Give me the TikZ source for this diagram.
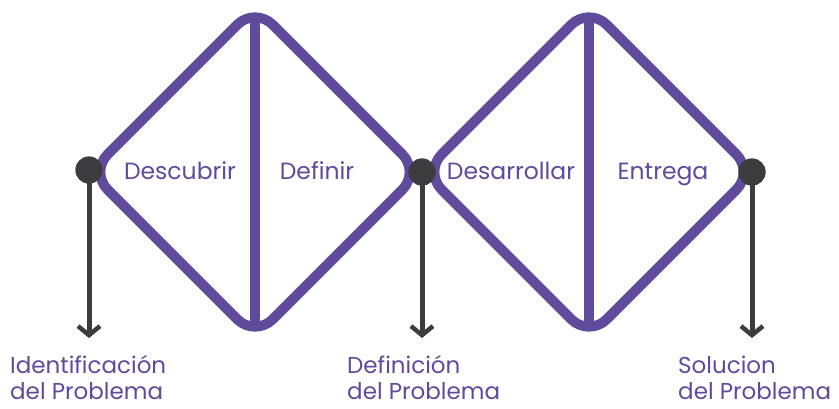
\documentclass[tikz,border=0pt]{standalone}
\usepackage{fontspec}
\setmainfont{Poppins}
\usetikzlibrary{arrows.meta}
\definecolor{dpurple}{HTML}{604A9C}
\definecolor{ddark}{HTML}{3C3C3E}
\begin{document}
\begin{tikzpicture}[x=1pt,y=-1pt,
  dia/.style={draw=dpurple,line width=10pt,rounded corners=25pt,line join=round},
  vline/.style={draw=dpurple,line width=10pt},
  dot/.style={circle,fill=ddark,minimum size=27pt,inner sep=0pt},
  arr/.style={draw=ddark,line width=5pt,-{Straight Barb[length=9pt,width=22pt,line width=4.5pt]}},
  lab/.style={text=dpurple,font=\fontsize{23.5}{28}\selectfont,inner sep=0pt,anchor=base},
  blab/.style={text=dpurple,font=\fontsize{23}{26.5}\selectfont,inner sep=0pt,anchor=base west,align=left,text depth=0pt}]
\useasboundingbox (0,0) rectangle (839,408);
% diamonds
\draw[dia] (172.5,89.5) -- (255,7) -- (420,172) -- (255,337) -- (90,172) -- cycle;
\draw[dia] (506.5,89.5) -- (589,7) -- (754,172) -- (589,337) -- (424,172) -- cycle;
\draw[vline] (255,15) -- (255,329);
\draw[vline] (589,15) -- (589,329);
% labels
\node[lab] (d1) at (180,179) {Descubrir};
\node[lab] (d2) at (317,179) {Definir};
\node[lab] (d3) at (511,179) {Desarrollar};
\node[lab] (d4) at (663,179) {Entrega};
% dots
\node[dot] (p1) at (89,170) {};
\node[dot] (p2) at (422,172) {};
\node[dot] (p3) at (752,172) {};
\coordinate (e1) at (89,338);
\coordinate (e2) at (422,338);
\coordinate (e3) at (752,338);
\draw[arr] (p1.center) -- (e1);
\draw[arr] (p2.center) -- (e2);
\draw[arr] (p3.center) -- (e3);
\node[dot] at (p1) {};
\node[dot] at (p2) {};
\node[dot] at (p3) {};
% bottom labels
\node[blab] (b1) at (10,399.5) {Identificación\\del Problema};
\node[blab] (b2) at (347,399.5) {Definición\\del Problema};
\node[blab] (b3) at (678,399.5) {Solucion\\del Problema};
\end{tikzpicture}
\end{document}
